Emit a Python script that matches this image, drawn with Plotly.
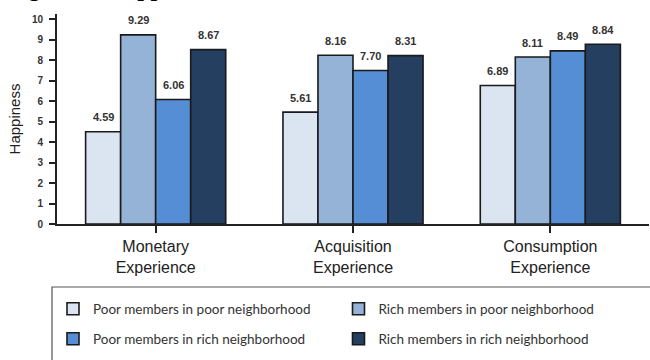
import plotly.graph_objects as go

categories = ["Monetary<br>Experience", "Acquisition<br>Experience", "Consumption<br>Experience"]
series_names = [
    "Poor members in poor neighborhood",
    "Rich members in poor neighborhood",
    "Poor members in rich neighborhood",
    "Rich members in rich neighborhood",
]
# bar heights as drawn in the picture
poor_poor = [4.50, 5.46, 6.76]
rich_poor = [9.23, 8.24, 8.15]
poor_rich = [6.08, 7.49, 8.45]
rich_rich = [8.51, 8.22, 8.77]
# printed value labels
poor_poor_lbl = ["4.59", "5.61", "6.89"]
rich_poor_lbl = ["9.29", "8.16", "8.11"]
poor_rich_lbl = ["6.06", "7.70", "8.49"]
rich_rich_lbl = ["8.67", "8.31", "8.84"]

colors = ["#DBE5F1", "#95B3D7", "#558ED5", "#253F60"]
values = [poor_poor, rich_poor, poor_rich, rich_rich]
labels = [poor_poor_lbl, rich_poor_lbl, poor_rich_lbl, rich_rich_lbl]
legend_ids = ["legend", "legend2", "legend3", "legend4"]

BARGAP = 0.29
n_series = len(values)
bar_w = (1 - BARGAP) / n_series

fig = go.Figure()
annotations = []
for k, (name, vals, lbls, col, lg) in enumerate(zip(series_names, values, labels, colors, legend_ids)):
    fig.add_trace(go.Bar(
        x=list(range(len(categories))), y=vals, name=name, legend=lg,
        marker=dict(color=col, line=dict(color="#1a1a1a", width=1.6)),
    ))
    off = -(1 - BARGAP) / 2 + bar_w * (k + 0.5)
    for i, (v, t) in enumerate(zip(vals, lbls)):
        annotations.append(dict(
            x=i + off, y=v, xref="x", yref="y", text="<b>%s</b>" % t, showarrow=False,
            yanchor="middle", yshift=14.5,
            font=dict(family="Liberation Sans", size=11, color="#333333")))

annotations.append(dict(text="<b>Figure 3: Happiness</b>", xref="paper", yref="paper",
                        x=(5 - 57) / 592, xanchor="left", y=1 + (14 - 3.5) / 210, yanchor="bottom",
                        showarrow=False, font=dict(family="Liberation Serif", size=24, color="black")))

leg_font = dict(family="Lato", size=13.5, color="#333333")
col_x = [(53 - 57) / 592, (53 + 285.5 - 57) / 592]
row_y = [(224 - 309) / 210, (224 - 339) / 210]
leg_pos = [(col_x[0], row_y[0]), (col_x[1], row_y[0]), (col_x[0], row_y[1]), (col_x[1], row_y[1])]
leg_layout = {}
for lg, (lx, ly) in zip(legend_ids, leg_pos):
    leg_layout[lg] = dict(orientation="h", x=lx, xanchor="left", y=ly, yanchor="middle",
                          font=leg_font, bgcolor="rgba(0,0,0,0)")

fig.update_layout(
    width=650, height=360,
    margin=dict(l=57, r=1, t=14, b=136),
    paper_bgcolor="white", plot_bgcolor="white",
    barmode="group", bargap=BARGAP, bargroupgap=0,
    showlegend=True,
    **leg_layout,
    xaxis=dict(
        tickmode="array", tickvals=list(range(len(categories))), ticktext=categories,
        showline=True, linecolor="#222222", linewidth=2,
        ticks="outside", tickson="boundaries", ticklen=7, tickwidth=1.5, tickcolor="#222222",
        tickfont=dict(family="Liberation Sans", size=16, color="#222222"),
        ticklabelstandoff=0,
        range=[-0.5, 2.5], showgrid=False, zeroline=False,
    ),
    yaxis=dict(
        range=[0, 10.25], tickvals=list(range(0, 11)),
        showline=True, linecolor="#222222", linewidth=2,
        ticks="outside", ticklen=6, tickwidth=1.5, tickcolor="#222222",
        tickfont=dict(family="Liberation Sans", size=10, color="#333333", weight="bold"),
        ticklabelstandoff=4,
        showgrid=False, zeroline=False,
        title=dict(text="Happiness", font=dict(family="Liberation Sans", size=15, color="#222222"),
                   standoff=8),
    ),
    shapes=[dict(type="rect", xref="paper", yref="paper",
                 x0=(52 - 57) / 592, x1=1.02, y0=(224 - 375) / 210, y1=(224 - 287) / 210,
                 line=dict(color="#555555", width=1.2), fillcolor="rgba(0,0,0,0)", layer="below")],
    annotations=annotations,
)

fig.write_html("out.html")
